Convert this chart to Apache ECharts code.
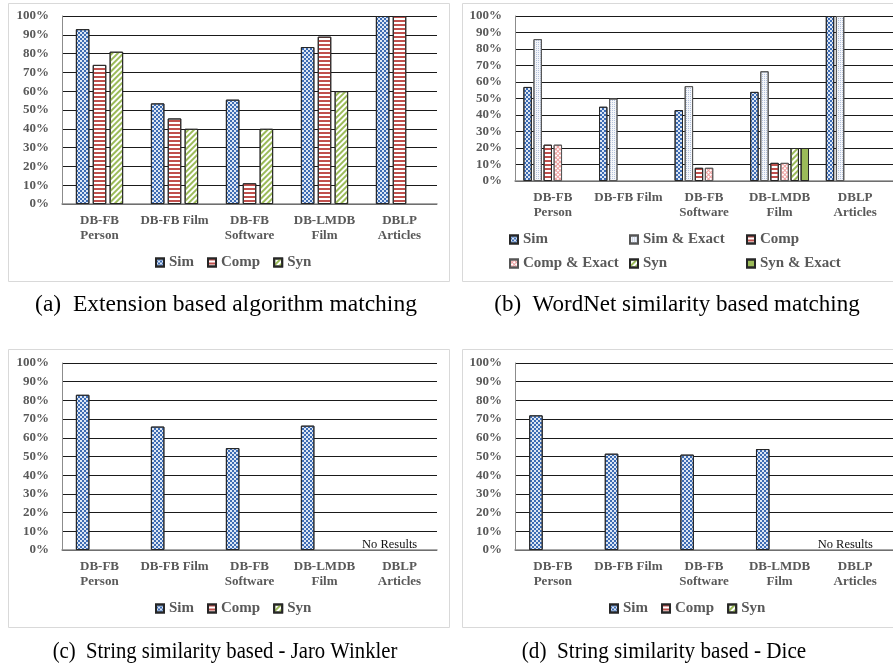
<!DOCTYPE html>
<html>
<head>
<meta charset="utf-8">
<script src="https://cdn.jsdelivr.net/npm/echarts@6/dist/echarts.min.js"></script>
<style>html,body{margin:0;padding:0;background:#fff}#c{width:893px;height:669px}</style>
</head>
<body>
<div id="c"></div>
<script>
// ---- data ----
const categories = ['DB-FB\nPerson', 'DB-FB Film', 'DB-FB\nSoftware', 'DB-LMDB\nFilm', 'DBLP\nArticles'];
const yTicks = [0, 10, 20, 30, 40, 50, 60, 70, 80, 90, 100];
// (a) Extension based algorithm matching
const aSim  = [93, 53.5, 55.5, 83.5, 100];
const aComp = [74, 45.5, 11, 89, 100];
const aSyn  = [81, 40, 40, 60, null];
// (b) WordNet similarity based matching
const bSim        = [57, 45, 43, 54, 100];
const bSimExact   = [86, 50, 57.5, 66.5, 100];
const bComp       = [22, null, 8, 11, null];
const bCompExact  = [22, null, 8, 11, null];
const bSyn        = [null, null, null, 20, null];
const bSynExact   = [null, null, null, 20, null];
// (c) String similarity based - Jaro Winkler
const cSim  = [83, 66, 54.5, 66.5, null];
const cComp = [null, null, null, null, null];
const cSyn  = [null, null, null, null, null];
// (d) String similarity based - Dice
const dSim  = [72, 51.5, 51, 54, null];
const dComp = [null, null, null, null, null];
const dSyn  = [null, null, null, null, null];
const captions = ['(a)  Extension based algorithm matching', '(b)  WordNet similarity based matching',
                  '(c)  String similarity based - Jaro Winkler', '(d)  String similarity based - Dice'];
const noResults = 'No Results';

// ---- styles ----
const SERIF = '"Liberation Serif", "Times New Roman", serif';
const GRAY = '#595959';
const BLUE = '#3d6cb3', RED = '#C0504D', GREEN = '#9BBB59';
const BORDER = '#262626';
const styles = {
  'Sim': { color: '#dde6f4', borderColor: BORDER, borderWidth: 1,
    decal: { symbol: 'rect', symbolSize: 1, symbolKeepAspect: false, color: BLUE, dashArrayX: [[2, 2], [0, 2, 2, 0]], dashArrayY: [2, 0] } },
  'Comp': { color: '#ffffff', borderColor: BORDER, borderWidth: 1,
    decal: { symbol: 'rect', symbolSize: 1, symbolKeepAspect: false, color: RED, dashArrayX: [1, 0], dashArrayY: [1.5, 1.5] } },
  'Syn': { color: '#ffffff', borderColor: BORDER, borderWidth: 1,
    decal: { symbol: 'rect', symbolSize: 1, symbolKeepAspect: false, color: GREEN, dashArrayX: [1, 0], dashArrayY: [1.5, 1.5], rotation: -Math.PI / 4 } },
  'Sim & Exact': { color: '#f4f6fa', borderColor: '#555', borderWidth: 1,
    decal: { symbol: 'rect', symbolSize: 1, symbolKeepAspect: false, color: '#b4c2dc', dashArrayX: [1, 1], dashArrayY: [1, 1] } },
  'Comp & Exact': { color: '#ffffff', borderColor: '#555', borderWidth: 1,
    decal: { symbol: 'rect', symbolSize: 1, symbolKeepAspect: false, color: '#eea0a0', dashArrayX: [[3, 0], [1, 2]], dashArrayY: [1, 0, 2, 0], rotation: Math.PI / 4 } },
  'Syn & Exact': { color: GREEN, borderColor: BORDER, borderWidth: 1,
    decal: { symbol: 'rect', symbolSize: 1, color: 'rgba(0,0,0,0)', dashArrayX: [1, 0], dashArrayY: [1, 0] } }
};

// ---- layout ----
const grids = [
  { left: 62, top: 16, width: 375, height: 188 },
  { left: 515, top: 16, width: 378, height: 165 },
  { left: 62, top: 363, width: 375, height: 187 },
  { left: 515, top: 363, width: 378, height: 187 }
];

function xAxis(i) {
  return {
    type: 'category', gridIndex: i, data: categories,
    axisLine: { lineStyle: { color: '#8c8c8c', width: 1.5 } },
    axisTick: { show: false },
    axisLabel: { interval: 0, color: GRAY, fontFamily: SERIF, fontWeight: 'bold', fontSize: 13, lineHeight: 15, margin: 9 }
  };
}
function yAxis(i) {
  return {
    type: 'value', gridIndex: i, min: 0, max: 100, interval: 10,
    axisLine: { show: true, lineStyle: { color: '#8c8c8c', width: 1 } },
    axisTick: { show: false },
    splitLine: { lineStyle: { color: '#1a1a1a', width: 1 } },
    axisLabel: { color: GRAY, fontFamily: SERIF, fontWeight: 'bold', fontSize: 13, margin: 13,
      formatter: v => v + '%' }
  };
}
function bar(name, data, gi, bw, gap, extra) {
  return Object.assign({
    type: 'bar', name: name, data: data, xAxisIndex: gi, yAxisIndex: gi,
    barWidth: bw, barGap: gap, itemStyle: styles[name], silent: true,
    emphasis: { disabled: true }
  }, extra || {});
}
function noRes() {
  return { markPoint: {
    symbol: 'rect', symbolSize: 0, silent: true,
    data: [{ coord: [categories[4], 0], value: 0 }],
    label: { show: true, formatter: noResults, position: 'inside', offset: [7, -5],
      color: '#111', fontFamily: SERIF, fontSize: 12.5 }
  } };
}
function legend(items, left, top) {
  return {
    data: items, left: left, top: top, padding: 0, itemGap: 13, itemWidth: 8, itemHeight: 8,
    icon: 'rect', selectedMode: false,
    textStyle: { color: GRAY, fontFamily: SERIF, fontWeight: 'bold', fontSize: 15 }
  };
}
const legends = [
  legend(['Sim', 'Comp', 'Syn'], 155, 255),
  legend(['Sim'], 509, 232), legend(['Sim & Exact'], 629, 232), legend(['Comp'], 746, 232),
  legend(['Comp & Exact'], 509, 256), legend(['Syn'], 629, 256), legend(['Syn & Exact'], 746, 256),
  legend(['Sim', 'Comp', 'Syn'], 155, 601),
  legend(['Sim', 'Comp', 'Syn'], 609, 601)
];

const series = [
  bar('Sim', aSim, 0, 13.5, '25%'), bar('Comp', aComp, 0, 13.5, '25%'), bar('Syn', aSyn, 0, 13.5, '25%'),
  bar('Sim', bSim, 1, 8.4, '20%'), bar('Sim & Exact', bSimExact, 1, 8.4, '20%'),
  bar('Comp', bComp, 1, 8.4, '20%'), bar('Comp & Exact', bCompExact, 1, 8.4, '20%'),
  bar('Syn', bSyn, 1, 8.4, '20%'), bar('Syn & Exact', bSynExact, 1, 8.4, '20%'),
  bar('Sim', cSim, 2, 13.5, '25%', noRes()), bar('Comp', cComp, 2, 13.5, '25%'), bar('Syn', cSyn, 2, 13.5, '25%'),
  bar('Sim', dSim, 3, 13.5, '25%', noRes()), bar('Comp', dComp, 3, 13.5, '25%'), bar('Syn', dSyn, 3, 13.5, '25%')
];

function frame(x, y, w, h) {
  return { type: 'rect', silent: true, z: -10, shape: { x: x, y: y, width: w, height: h },
    style: { fill: '#fff', stroke: '#d9d9d9', lineWidth: 1 } };
}
function caption(text, cx, cy, size, sx) {
  return { type: 'text', silent: true, x: cx, y: cy, scaleX: sx || 1,
    style: { text: text, fill: '#000', font: size + 'px ' + SERIF, align: 'center', verticalAlign: 'middle' } };
}

const chart = echarts.init(document.getElementById('c'), null, { renderer: 'canvas' });
chart.setOption({
  animation: false,
  backgroundColor: '#fff',
  grid: grids,
  xAxis: [0, 1, 2, 3].map(xAxis),
  yAxis: [0, 1, 2, 3].map(yAxis),
  legend: legends,
  series: series,
  graphic: [
    frame(8.5, 3.5, 441, 278), frame(462.5, 3.5, 445, 278),
    frame(8.5, 349.5, 441, 278), frame(462.5, 349.5, 445, 278),
    caption(captions[0], 226, 305, 23.5), caption(captions[1], 677, 305, 23),
    caption(captions[2], 225, 652, 23, 0.9), caption(captions[3], 664, 652, 23, 0.92)
  ]
});
</script>
</body>
</html>
